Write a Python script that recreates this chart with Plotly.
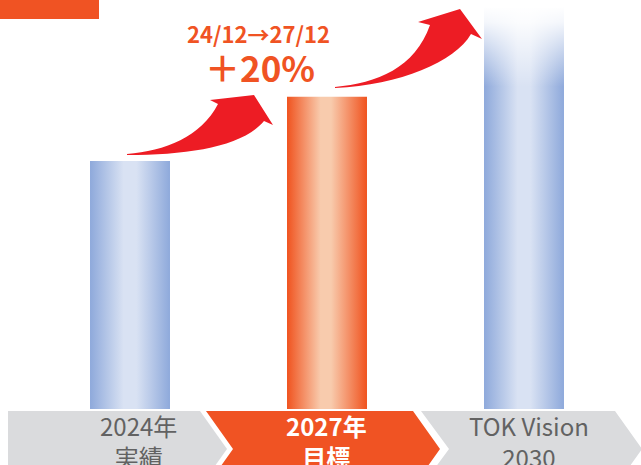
import plotly.graph_objects as go

# ---------------- data ----------------
categories = ["2024年実績", "2027年目標", "TOK Vision 2030"]
label_line1 = ["2024年", "2027年", "TOK Vision"]
label_line2 = ["実績", "目標", "2030"]
values = [100, 126, 162]
highlight = [False, True, False]
growth_period = "24/12→27/12"
growth_text = "＋20%"

# ---------------- styles ----------------
W, H = 641, 465
ORANGE = "#F05323"
RED = "#ED1C24"
GRAY_BOX = "#DADBDD"
GRAY_TXT = "#626262"
FONT = "Noto Sans CJK JP"
BLUE_SCALE = [[0, "#8EA9DB"], [0.42, "#D9E2F3"], [0.58, "#D9E2F3"], [1, "#8EA9DB"]]
ORANGE_SCALE = [[0, "#F0531F"], [0.42, "#F8CBAD"], [0.55, "#F8CBAD"], [1, "#F0531F"]]
BAR_W = 0.406
Y_MAX = 165


def P(x, y):
    """pixel -> paper coordinates"""
    return f"{x / W:.5f},{1 - y / H:.5f}"


fig = go.Figure()

for i, (cat, v, hl) in enumerate(zip(categories, values, highlight)):
    xs = [i - BAR_W / 2, i + BAR_W / 2, i + BAR_W / 2, i - BAR_W / 2, i - BAR_W / 2]
    ys = [0, 0, v, v, 0]
    fig.add_trace(go.Scatter(
        x=xs, y=ys, name=cat, mode="none", fill="toself",
        fillgradient=dict(type="horizontal",
                          colorscale=ORANGE_SCALE if hl else BLUE_SCALE),
        hoverinfo="skip", showlegend=False,
    ))

# fade on top of the last (vision) bar
i_last = len(values) - 1
v_last = values[i_last]
fade = 32
fig.add_trace(go.Scatter(
    x=[i_last - BAR_W / 2 - 0.01, i_last + BAR_W / 2 + 0.01,
       i_last + BAR_W / 2 + 0.01, i_last - BAR_W / 2 - 0.01, i_last - BAR_W / 2 - 0.01],
    y=[v_last - fade, v_last - fade, v_last + 0.5, v_last + 0.5, v_last - fade],
    mode="none", fill="toself",
    fillgradient=dict(type="vertical", colorscale=[
        [0, "rgba(255,255,255,0)"], [0.45, "rgba(255,255,255,0.5)"],
        [0.8, "rgba(255,255,255,0.9)"], [1, "rgba(255,255,255,1)"]]),
    hoverinfo="skip", showlegend=False,
))

shapes = []

# chevron label boxes
chev_paths = [
    [(8, 411), (200, 411), (227, 449), (200, 487), (8, 487)],
    [(206, 411), (413, 411), (440, 449), (413, 487), (206, 487), (233, 449)],
    [(421, 411), (615, 411), (642, 449), (615, 487), (421, 487), (449, 449)],
]
for pts, hl in zip(chev_paths, highlight):
    path = "M " + " L ".join(P(x, y) for x, y in pts) + " Z"
    shapes.append(dict(type="path", xref="paper", yref="paper", path=path,
                       fillcolor=ORANGE if hl else GRAY_BOX, line=dict(width=0),
                       layer="below"))

# red curved arrows
arrow1 = ("M " + P(127, 154) + " C " + P(165, 151) + " " + P(201, 137) + " " + P(218, 104)
          + " L " + P(210, 100) + " L " + P(254, 95) + " L " + P(273, 125) + " L " + P(264, 121)
          + " C " + P(243, 146) + " " + P(190, 155) + " " + P(127, 155) + " Z")
arrow2 = ("M " + P(335, 87) + " C " + P(377, 83) + " " + P(415, 68) + " " + P(430, 25)
          + " L " + P(418, 22) + " L " + P(460, 9) + " L " + P(482, 39) + " L " + P(471, 34)
          + " C " + P(455, 62) + " " + P(400, 85) + " " + P(335, 88) + " Z")
for a in (arrow1, arrow2):
    shapes.append(dict(type="path", xref="paper", yref="paper", path=a,
                       fillcolor=RED, line=dict(width=0)))

# top-left orange tab
shapes.append(dict(type="rect", xref="paper", yref="paper",
                   x0=0, x1=99 / W, y0=1 - 19 / H, y1=1,
                   fillcolor=ORANGE, line=dict(width=0)))

annotations = []
label_cx = [138, 326, 529]
for cx, l1, l2, hl in zip(label_cx, label_line1, label_line2, highlight):
    col = "white" if hl else GRAY_TXT
    txt = f"<b>{l1}<br>{l2}</b>" if hl else f"{l1}<br>{l2}"
    annotations.append(dict(
        xref="paper", yref="paper", x=cx / W, y=1 - 441 / H,
        text=txt, showarrow=False,
        font=dict(family=FONT, size=24, color=col),
        xanchor="center", yanchor="middle"))

annotations.append(dict(xref="paper", yref="paper", x=258 / W, y=1 - 33 / H,
                        text=f"<b>{growth_period}</b>", showarrow=False,
                        font=dict(family=FONT, size=22, color=ORANGE),
                        xanchor="center", yanchor="middle"))
annotations.append(dict(xref="paper", yref="paper", x=260 / W, y=1 - 67 / H,
                        text=f"<b>{growth_text}</b>", showarrow=False,
                        font=dict(family=FONT, size=35, color=ORANGE),
                        xanchor="center", yanchor="middle"))

# x axis: index 0 at ~130 px, 197 px per category
x_left = -130 / 197
x_right = (W - 130) / 197
fig.update_layout(
    width=W, height=H,
    margin=dict(l=0, r=0, t=0, b=0),
    paper_bgcolor="white", plot_bgcolor="white",
    showlegend=False,
    xaxis=dict(range=[x_left, x_right], visible=False, fixedrange=True),
    yaxis=dict(range=[0, Y_MAX], domain=[(H - 409) / H, 1], visible=False, fixedrange=True),
    shapes=shapes, annotations=annotations,
)

fig.write_html("out.html", config={"displayModeBar": False},
               post_script="document.body.style.margin='0';document.body.style.padding='0';")
